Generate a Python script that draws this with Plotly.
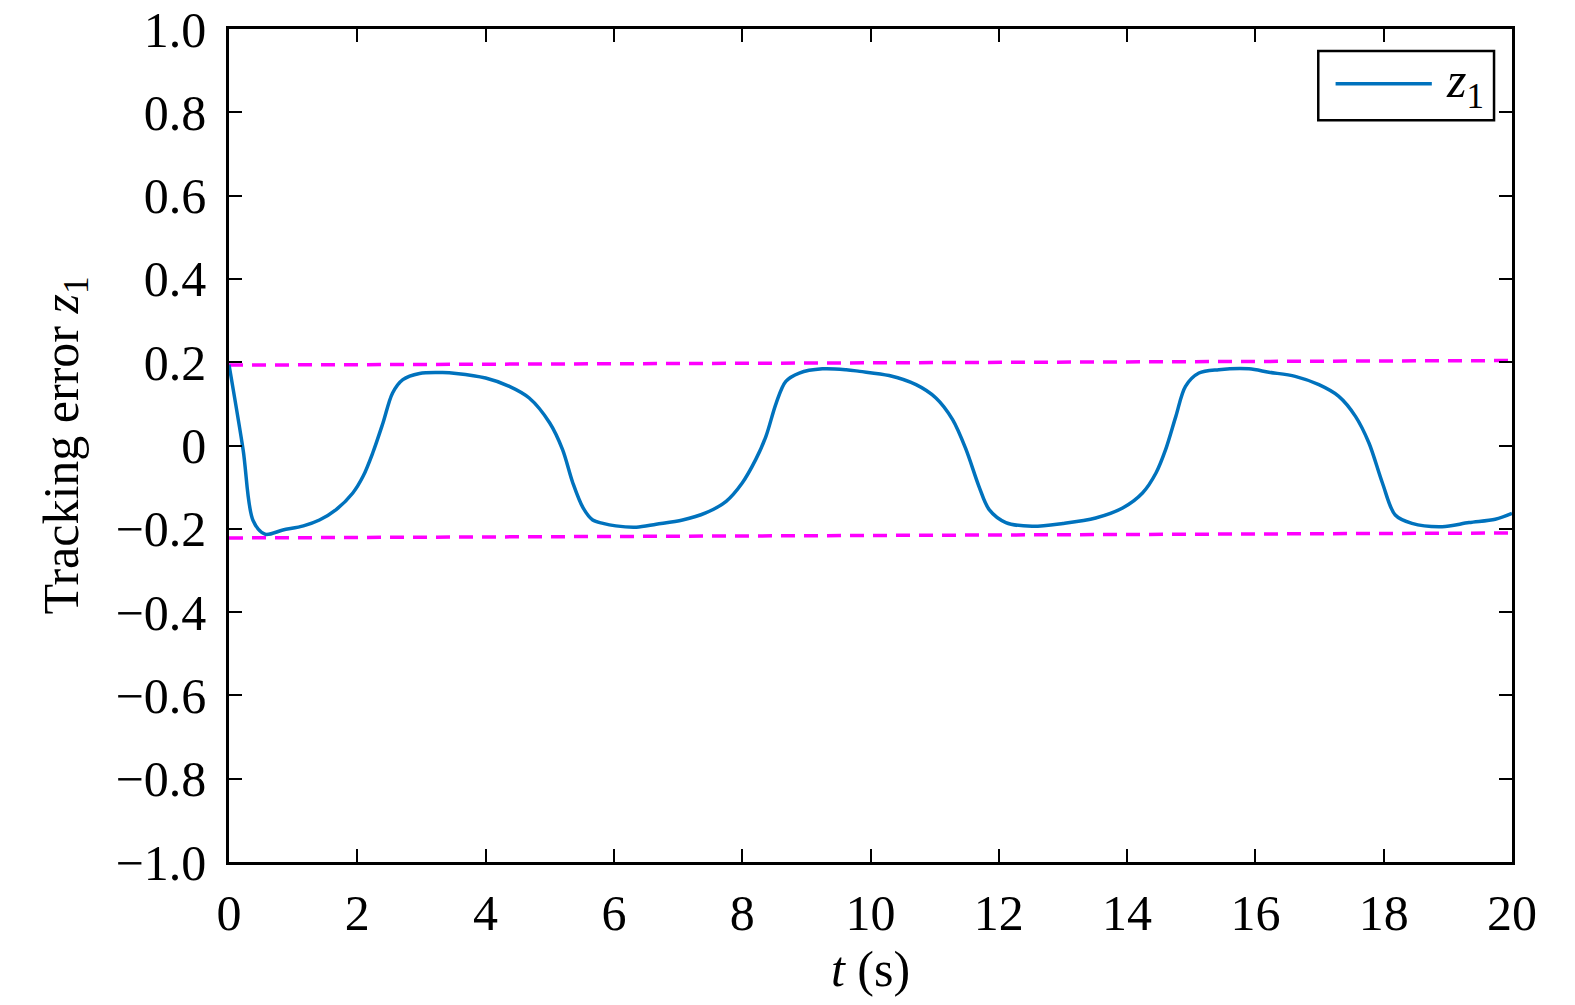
import plotly.graph_objects as go

# Tracking error z1
t = [0, 0.22, 0.375, 0.56, 0.84, 1.16, 1.41, 1.67, 1.93, 2.09, 2.24, 2.4, 2.55, 2.71, 2.97,
     3.33, 3.54, 4.0, 4.37, 4.68, 5.0, 5.2, 5.36, 5.52, 5.67, 5.83, 6.03, 6.35, 6.66, 7.07,
     7.43, 7.75, 8.0, 8.21, 8.37, 8.53, 8.68, 8.89, 9.25, 9.62, 9.83, 10.29, 10.71, 11.02,
     11.28, 11.49, 11.69, 11.85, 12.11, 12.52, 13.0, 13.51, 13.93, 14.24, 14.45, 14.6, 14.76,
     14.91, 15.12, 15.43, 15.9, 16.21, 16.62, 16.99, 17.3, 17.56, 17.77, 17.98, 18.18, 18.44,
     18.91, 19.33, 19.74, 20.0]
z1 = [0.194, -0.01, -0.18, -0.213, -0.203, -0.193, -0.179, -0.154, -0.114, -0.074, -0.018,
      0.054, 0.126, 0.158, 0.173, 0.175, 0.173, 0.162, 0.142, 0.114, 0.054, -0.01, -0.09,
      -0.150, -0.179, -0.187, -0.193, -0.196, -0.189, -0.179, -0.162, -0.134, -0.09, -0.034,
      0.022, 0.102, 0.154, 0.174, 0.184, 0.182, 0.178, 0.168, 0.146, 0.114, 0.062, -0.01,
      -0.098, -0.154, -0.185, -0.194, -0.187, -0.174, -0.150, -0.114, -0.066, -0.01, 0.070,
      0.142, 0.174, 0.182, 0.184, 0.176, 0.166, 0.146, 0.118, 0.070, 0.006, -0.09, -0.167,
      -0.187, -0.195, -0.185, -0.177, -0.163]

# Prescribed performance bounds
t_bound = [0, 20]
upper = [0.193, 0.204]
lower = [-0.222, -0.210]

x_ticks = list(range(0, 21, 2))
y_ticks = [-1.0, -0.8, -0.6, -0.4, -0.2, 0, 0.2, 0.4, 0.6, 0.8, 1.0]
y_labels = ['\u22121.0', '\u22120.8', '\u22120.6', '\u22120.4', '\u22120.2', '0',
            '0.2', '0.4', '0.6', '0.8', '1.0']

font = 'Liberation Serif'
blue = '#0072BD'
magenta = '#FF00FF'

fig = go.Figure()
fig.add_trace(go.Scatter(x=t_bound, y=upper, mode='lines',
                         line=dict(color=magenta, width=3.5, dash='14px,9px')))
fig.add_trace(go.Scatter(x=t_bound, y=lower, mode='lines',
                         line=dict(color=magenta, width=3.5, dash='14px,9px')))
fig.add_trace(go.Scatter(x=t, y=z1, mode='lines', name='z1',
                         line=dict(color=blue, width=3.5, shape='spline', smoothing=0.9)))

axis_style = dict(showline=True, linecolor='black', linewidth=2.5, mirror='ticks',
                  ticks='inside', ticklen=13, tickwidth=2, tickcolor='black',
                  showgrid=False, zeroline=False, automargin=False,
                  ticklabeloverflow='allow',
                  tickfont=dict(family=font, size=50, color='black'))

fig.update_layout(
    width=1575, height=1005,
    margin=dict(l=221, r=71, t=21, b=151),
    paper_bgcolor='white', plot_bgcolor='white',
    showlegend=False,
    font=dict(family=font, size=50, color='black'),
    xaxis=dict(range=[0, 20], tickvals=x_ticks, ticklabelstandoff=5,
               title=dict(text='<i>t</i> (s)', standoff=4,
                          font=dict(family=font, size=50)),
               **axis_style),
    yaxis=dict(range=[-1, 1], tickvals=y_ticks, ticktext=y_labels, ticklabelstandoff=10,
               title=dict(text='Tracking error <i>z</i><sub>1</sub>', standoff=22,
                          font=dict(family=font, size=50)),
               **axis_style),
)

# Legend box drawn by hand so the sample line can be as long as in the original
fig.add_shape(type='rect', xref='paper', yref='paper', x0=0.849, x1=0.986, y0=0.8905, y1=0.9735,
              line=dict(color='black', width=2.5), fillcolor='white', layer='above')
fig.add_shape(type='line', xref='paper', yref='paper', x0=0.8625, x1=0.9375, y0=0.9342, y1=0.9342,
              line=dict(color=blue, width=3.5), layer='above')
fig.add_annotation(xref='paper', yref='paper', x=0.947, y=0.934, xanchor='left', yanchor='middle',
                   showarrow=False, text='<i>z</i><sub>1</sub>',
                   font=dict(family=font, size=50, color='black'))

fig.write_html('out.html')
